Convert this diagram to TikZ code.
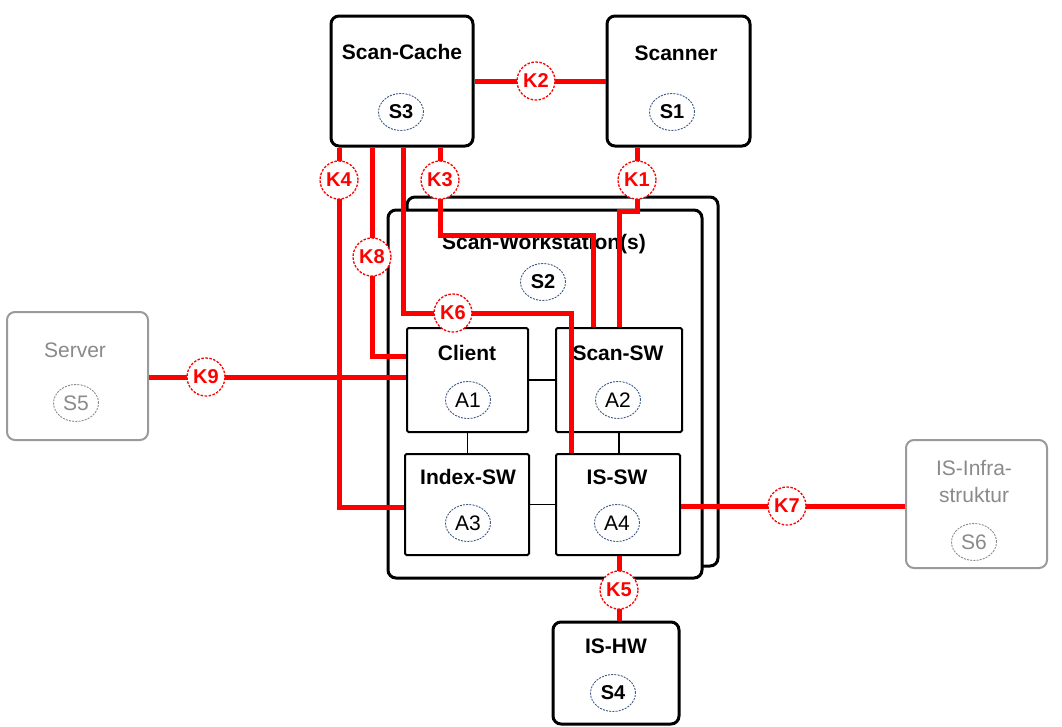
\documentclass[tikz,border=0pt]{standalone}
\usepackage{fontspec}
\setmainfont{Liberation Sans}
\usetikzlibrary{shapes.geometric}
\definecolor{idblue}{HTML}{3F5A86}
\definecolor{boxgray}{HTML}{9A9A9A}
\definecolor{txtgray}{HTML}{8A8A8A}
\definecolor{kred}{HTML}{FF0000}
\begin{document}
\begin{tikzpicture}[x=1pt,y=-1pt,
  sysbox/.style={draw=black, line width=3pt, rounded corners=8pt, fill=white, minimum width=#1},
  appbox/.style={draw=black, line width=2pt, rounded corners=1.5pt, fill=white},
  graybox/.style={draw=boxgray, line width=2pt, rounded corners=8pt, fill=white},
  title/.style={font=\bfseries\fontsize{21}{27}\selectfont, inner sep=0pt},
  graytitle/.style={font=\fontsize{21}{27}\selectfont, text=txtgray, inner sep=0pt, align=center},
  sid/.style={ellipse, draw=idblue, dash pattern=on 2pt off 1.2pt, line width=0.9pt, fill=white, minimum width=45pt, minimum height=37pt, inner sep=0pt, font=\bfseries\fontsize{20}{20}\selectfont},
  aid/.style={sid, font=\fontsize{21}{21}\selectfont},
  gid/.style={sid, draw=txtgray, text=txtgray, font=\fontsize{21}{21}\selectfont},
  kid/.style={circle, draw=kred, dash pattern=on 2.5pt off 1.5pt, line width=1.3pt, fill=white, minimum size=38pt, inner sep=0pt, text=kred, font=\bfseries\fontsize{20}{20}\selectfont},
  conn/.style={draw=kred, line width=5pt},
  thinline/.style={draw=black, line width=1.3pt}]
\useasboundingbox (0,0) rectangle (1062,726);

% system boxes
\node[sysbox=142pt, minimum height=130pt] (cache) at (402,81) {};
\node[sysbox=143pt, minimum height=130pt] (scanner) at (678.5,81) {};
\node[sysbox=311pt, minimum height=369pt] (wsback) at (562.5,381.5) {};
\node[sysbox=314pt, minimum height=368pt] (ws) at (545,394) {};
\node[sysbox=126pt, minimum height=102pt] (ishw) at (616,673) {};
\node[graybox, minimum width=141pt, minimum height=128pt] (server) at (77.5,376) {};
\node[graybox, minimum width=141pt, minimum height=128pt] (infra) at (976.5,504) {};

% application boxes
\node[appbox, minimum width=121pt, minimum height=104pt] (client) at (467.5,380) {};
\node[appbox, minimum width=126pt, minimum height=104pt] (scansw) at (619,380) {};
\node[appbox, minimum width=124pt, minimum height=101pt] (indexsw) at (467,504.5) {};
\node[appbox, minimum width=124pt, minimum height=101pt] (issw) at (618,504.5) {};

% titles
\node[title] (tcache) at (402,52) {Scan-Cache};
\node[title] (tscanner) at (676,53) {Scanner};
\node[title] (tws) at (544,244) {Scan-Workstation(s)};
\node[title] (tclient) at (467,353) {Client};
\node[title] (tscansw) at (618,353) {Scan-SW};
\node[title] (tindexsw) at (468,477) {Index-SW};
\node[title] (tissw) at (617,477) {IS-SW};
\node[title] (tishw) at (616,646) {IS-HW};
\node[graytitle] (tserver) at (75,350) {Server};
\node[graytitle] (tinfra) at (974,481) {IS-Infra-\\struktur};

% ids
\node[sid] (s3) at (401,112) {S3};
\node[sid] (s1) at (672,112) {S1};
\node[sid] (s2) at (543,282) {S2};
\node[sid] (s4) at (613,693) {S4};
\node[gid] (s5) at (76,403) {S5};
\node[gid] (s6) at (974,542) {S6};
\node[aid] (a1) at (468,400) {A1};
\node[aid] (a2) at (618,400) {A2};
\node[aid] (a3) at (468,523) {A3};
\node[aid] (a4) at (617,523) {A4};

% thin internal connectors
\draw[thinline] (client.east) -- (scansw.west);
\draw[thinline] (client.south) -- (client.south |- indexsw.north);
\draw[thinline] (scansw.south) -- (scansw.south |- issw.north);
\draw[thinline] (indexsw.east) -- (issw.west);

% K nodes positions
\coordinate (k1p) at (637,180);
\coordinate (k2p) at (536,81);
\coordinate (k3p) at (440,180);
\coordinate (k4p) at (339,180);
\coordinate (k5p) at (619,590);
\coordinate (k6p) at (453,313);
\coordinate (k7p) at (787,506);
\coordinate (k8p) at (372,257);
\coordinate (k9p) at (206,377);

% bends
\coordinate (k1a) at (637,211);
\coordinate (k1b) at (619,211);
\coordinate (k3a) at (440,235);
\coordinate (k3b) at (593,235);
\coordinate (k4a) at (339,507);
\coordinate (k8a) at (372,356);
\coordinate (k6a) at (403,313);
\coordinate (k6b) at (571,313);

% red connectors
\draw[conn] (cache.east) -- (scanner.west);
\draw[conn] (k1p |- scanner.south) -- (k1a) -- (k1b) -- (k1b |- scansw.north);
\draw[conn] (k3p |- cache.south) -- (k3a) -- (k3b) -- (k3b |- scansw.north);
\draw[conn] (k4p |- cache.south) -- (k4a) -- (k4a -| indexsw.west);
\draw[conn] (k8p |- cache.south) -- (k8a) -- (k8a -| client.west);
\draw[conn] (k6a |- cache.south) -- (k6a) -- (k6b) -- (k6b |- issw.north);
\draw[conn] (server.east |- k9p) -- (client.west |- k9p);
\draw[conn] (issw.east |- k7p) -- (infra.west |- k7p);
\draw[conn] (k5p |- issw.south) -- (k5p |- ishw.north);

% K labels
\node[kid] (k1) at (k1p) {K1};
\node[kid] (k2) at (k2p) {K2};
\node[kid] (k3) at (k3p) {K3};
\node[kid] (k4) at (k4p) {K4};
\node[kid] (k5) at (k5p) {K5};
\node[kid] (k6) at (k6p) {K6};
\node[kid] (k7) at (k7p) {K7};
\node[kid] (k8) at (k8p) {K8};
\node[kid] (k9) at (k9p) {K9};
\end{tikzpicture}
\end{document}
